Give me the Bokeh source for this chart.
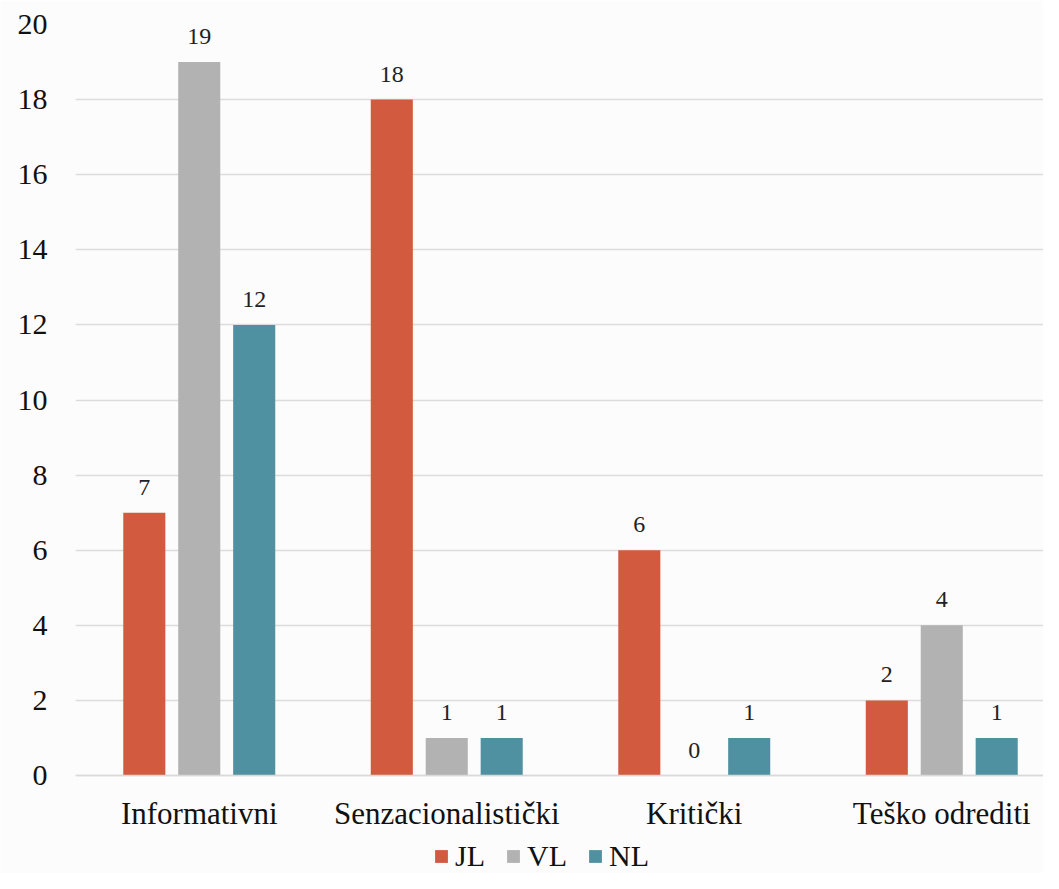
from bokeh.plotting import figure
from bokeh.models import ColumnDataSource, Range1d, FixedTicker, Legend, LegendItem, LabelSet
from bokeh.embed import file_html
from bokeh.resources import INLINE

categories = ["Informativni", "Senzacionalistički", "Kritički", "Teško odrediti"]
series_names = ["JL", "VL", "NL"]
jl = [7, 18, 6, 2]
vl = [19, 1, 0, 4]
nl = [12, 1, 1, 1]
colors = ["#D25A3E", "#B2B2B2", "#4F91A0"]
y_ticks = [0, 2, 4, 6, 8, 10, 12, 14, 16, 18, 20]

FONT = "serif"
W, H = 1043, 873
LEFT, TOP = 75, 24
FW = W - LEFT
PX_PER_UNIT = (775 - 24) / 20.0
y_low = -(H - 775) / PX_PER_UNIT

p = figure(width=W, height=H,
           output_backend="svg", toolbar_location=None,
           x_range=Range1d(0, FW / 247.5), y_range=Range1d(y_low, 20),
           min_border_left=LEFT, min_border_right=0, min_border_top=TOP,
           min_border_bottom=0)
p.background_fill_color = "#fcfcfc"
p.border_fill_color = "#fcfcfc"
p.outline_line_color = None

centers = [i + 0.5 for i in range(len(categories))]
offsets = [-0.222, 0.0, 0.222]
series = [jl, vl, nl]

items = []
for name, vals, off, col in zip(series_names, series, offsets, colors):
    src = ColumnDataSource(dict(x=[c + off for c in centers], top=vals,
                                lab=[str(v) for v in vals]))
    r = p.vbar(x="x", top="top", bottom=0, width=0.17, source=src,
               fill_color=col, line_color=None)
    items.append(LegendItem(label=name, renderers=[r]))
    ls = LabelSet(x="x", y="top", text="lab", source=src, y_offset=18,
                  text_align="center", text_baseline="bottom",
                  text_font=FONT, text_font_size="24px", text_color="#222222")
    p.add_layout(ls)

# axes
p.xaxis.fixed_location = 0
p.xaxis.ticker = FixedTicker(ticks=centers)
p.xaxis.major_label_overrides = {c: lab for c, lab in zip(centers, categories)}
p.xaxis.major_tick_line_color = None
p.xaxis.major_tick_out = 0
p.xaxis.minor_tick_line_color = None
p.xaxis.axis_line_color = "#d9d9d9"
p.xaxis.axis_line_width = 1.5
p.xaxis.major_label_standoff = 20
p.xaxis.major_label_text_font = FONT
p.xaxis.major_label_text_font_size = "31px"
p.xaxis.major_label_text_color = "#111111"

p.yaxis.ticker = FixedTicker(ticks=y_ticks)
p.yaxis.major_tick_line_color = None
p.yaxis.major_tick_out = 0
p.yaxis.minor_tick_line_color = None
p.yaxis.axis_line_color = None
p.yaxis.major_label_standoff = 28
p.yaxis.major_label_text_font = FONT
p.yaxis.major_label_text_font_size = "30px"
p.yaxis.major_label_text_color = "#111111"

p.xgrid.grid_line_color = None
p.ygrid.grid_line_color = "#dcdcdc"
p.ygrid.grid_line_width = 1.5

legend = Legend(items=items, orientation="horizontal", location=(358, 0),
                glyph_width=16, glyph_height=16, label_standoff=6, spacing=20,
                label_text_font=FONT, label_text_font_size="30px",
                label_text_color="#111111", background_fill_alpha=0,
                border_line_color=None, padding=0, margin=0)
p.add_layout(legend, "center")

open("out.html", "w").write(file_html(p, INLINE))
